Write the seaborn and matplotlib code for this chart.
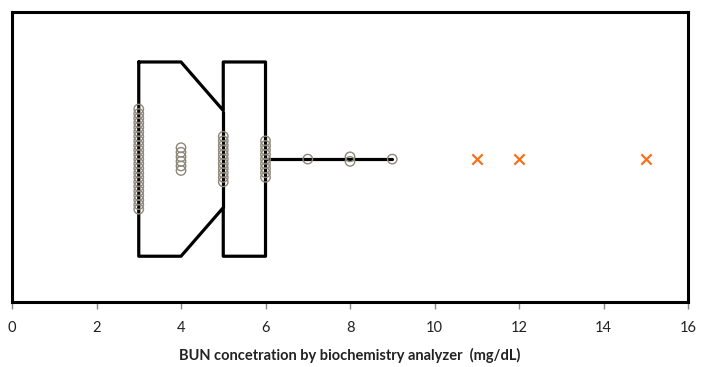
import numpy as np
import pandas as pd
import matplotlib
matplotlib.use("Agg")
import matplotlib.pyplot as plt
import seaborn as sns

# ---- data ----
bun_values = [3, 4, 5, 6, 7, 8, 9]
bun_counts = [23, 6, 11, 9, 1, 2, 1]
outliers = [11, 12, 15]
box_q1 = 3
box_median = 5
box_q3 = 6
notch_low = 4
notch_high = 5
whisker_low = 3
whisker_high = 9
x_ticks = [0, 2, 4, 6, 8, 10, 12, 14, 16]
x_label = "BUN concetration by biochemistry analyzer  (mg/dL)"

sns.set_theme(style="white")
plt.rcParams['font.family'] = ['Lato', 'DejaVu Sans']

fig = plt.figure(figsize=(7.02, 3.67), dpi=100)
ax = fig.add_axes([0.0171, 0.177, 0.963, 0.79])

center = 0.007

# notched box (left part notched, right part plain)
stats = [dict(med=box_median, q1=box_q1, q3=box_q3, whislo=whisker_low,
              whishi=whisker_high, cilo=notch_low, cihi=notch_high, fliers=[])]
ax.bxp(stats, positions=[center], widths=0.67, orientation='horizontal', shownotches=True,
       showcaps=False, showfliers=False, patch_artist=False,
       boxprops=dict(color='black', linewidth=2.3),
       whiskerprops=dict(color='black', linewidth=2.3),
       medianprops=dict(color='black', linewidth=2.3))

# stacked dot plot of individual values
spacing = 0.0157
rows = []
for v, c in zip(bun_values, bun_counts):
    for k in range(c):
        rows.append({'bun': v, 'offset': center + (k - (c - 1) / 2) * spacing})
df = pd.DataFrame(rows)
sns.scatterplot(data=df, x='bun', y='offset', ax=ax, marker='o', s=46,
                facecolor='none', edgecolor='#8f877a', linewidth=1.0, zorder=3)

# outliers
sns.scatterplot(x=outliers, y=[center] * len(outliers), ax=ax, marker='x', s=55,
                color='#f5711c', linewidth=1.6, zorder=3)

ax.set_xlim(0, 16)
ax.set_ylim(0.5, -0.5)
ax.set_yticks([])
ax.set_xticks(x_ticks)
ax.set_xticklabels([str(t) for t in x_ticks], fontsize=10.5, color='#222222')
ax.tick_params(axis='x', direction='out', length=5, width=1, color='#888888', bottom=True, pad=9)
ax.set_xlabel(x_label, fontsize=10.5, fontweight='bold', color='#222222', labelpad=9)
ax.set_ylabel('')
for s in ax.spines.values():
    s.set_color('black')
    s.set_linewidth(2.2)

fig.savefig('out.png', dpi=100)
